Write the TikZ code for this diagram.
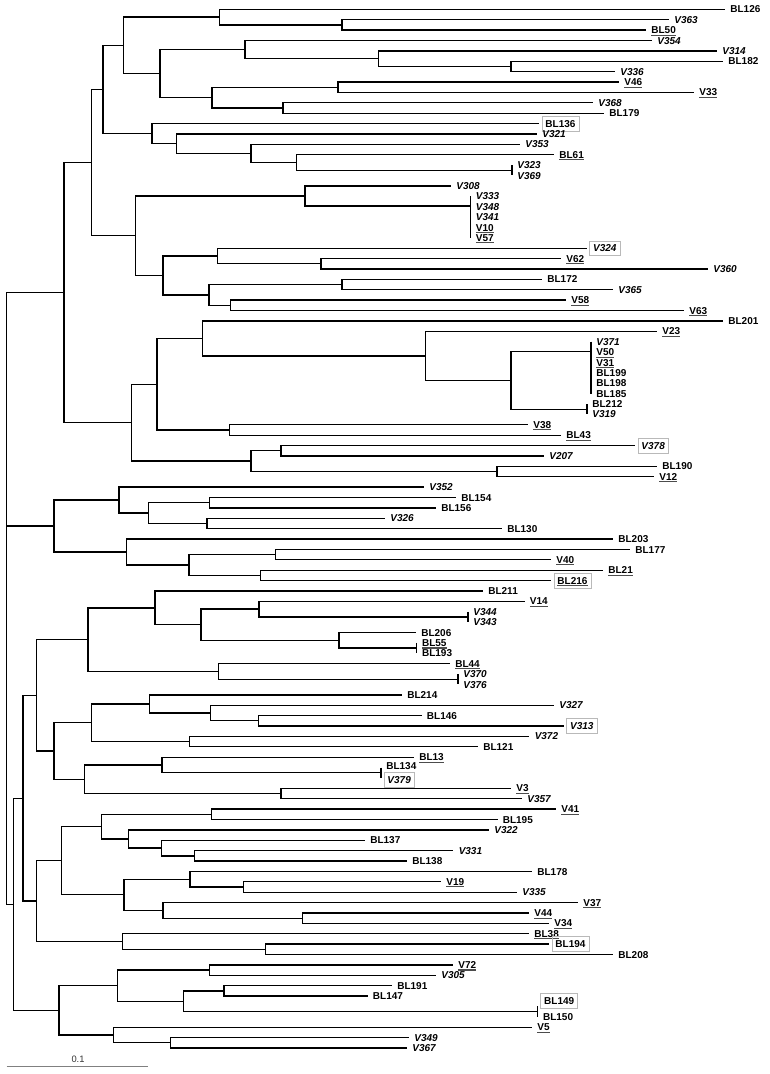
\documentclass[tikz,border=0pt]{standalone}
\usepackage{fontspec}
\newfontfamily\lblfont{Liberation Sans}

% underlined taxon label
\newcommand{\ulab}[1]{\setbox0=\hbox{#1}\rlap{\color{black!70}\rule[-1.5pt]{\wd0}{0.8pt}}\box0}
% tip coordinate plus its label
\newcommand{\taxon}[5][leaf]{\coordinate (#2) at (#3,#4); \node[#1] (l#2) at (#2) {#5};}

\begin{document}
\begin{tikzpicture}[
	x=0.75pt, y=-7.790pt,
	br/.style={line width=1pt},
	leaf/.style={anchor=west, inner sep=0.6pt, xshift=3.2pt, text height=5.4pt, text depth=0pt,
		font=\lblfont\bfseries\fontsize{7.5}{8}\selectfont},
	leafbox/.style={leaf, draw=gray!55, line width=0.5pt, inner xsep=2.6pt, minimum height=11pt, xshift=-1.2pt},
	scalebar/.style={gray, line width=0.6pt},
	]
	\useasboundingbox (0,0.1047) rectangle (769,103.503);
	
	% Taxa, upper clade
	\taxon{bl126}{725}{1}{BL126}
	\taxon{v363}{669}{2}{\itshape V363}
	\taxon{bl50}{646}{3}{\ulab{BL50}}
	\taxon{v354}{652}{4}{\itshape V354}
	\taxon{v314}{717}{5}{\itshape V314}
	\taxon{bl182}{723}{6}{BL182}
	\taxon{v336}{615}{7}{\itshape V336}
	\taxon{v46}{619}{8}{\ulab{V46}}
	\taxon{v33}{694}{9}{\ulab{V33}}
	\taxon{v368}{593}{10}{\itshape V368}
	\taxon{bl179}{604}{11}{BL179}
	\taxon[leafbox]{bl136}{539}{12}{BL136}
	\taxon{v321}{537}{13}{\itshape V321}
	\taxon{v353}{520}{14}{\itshape V353}
	\taxon{bl61}{554}{15}{\ulab{BL61}}
	\taxon{v323}{512}{16}{\itshape V323}
	\taxon{v369}{512}{17}{\itshape V369}
	\taxon{v308}{451}{18}{\itshape V308}
	\taxon{v333}{470.6}{19}{\itshape V333}
	\taxon{v348}{470.6}{20}{\itshape V348}
	\taxon{v341}{470.6}{21}{\itshape V341}
	\taxon{v10}{470.6}{22}{\ulab{V10}}
	\taxon{v57}{470.6}{23}{\ulab{V57}}
	\taxon[leafbox]{v324}{586.7}{24}{\itshape V324}
	\taxon{v62}{561}{25}{\ulab{V62}}
	\taxon{v360}{708}{26}{\itshape V360}
	\taxon{bl172}{542}{27}{BL172}
	\taxon{v365}{613}{28}{\itshape V365}
	\taxon{v58}{566}{29}{\ulab{V58}}
	\taxon{v63}{684}{30}{\ulab{V63}}
	\taxon{bl201}{723}{31}{BL201}
	\taxon{v23}{657}{32}{\ulab{V23}}
	\taxon{v371}{591}{33}{\itshape V371}
	\taxon{v50}{591}{34}{\ulab{V50}}
	\taxon{v31}{591}{35}{\ulab{V31}}
	\taxon{bl199}{591}{36}{BL199}
	\taxon{bl198}{591}{37}{BL198}
	\taxon{bl185}{591}{38}{BL185}
	\taxon{bl212}{587}{39}{BL212}
	\taxon{v319}{587}{40}{\itshape V319}
	\taxon{v38}{528}{41}{\ulab{V38}}
	\taxon{bl43}{561}{42}{\ulab{BL43}}
	\taxon[leafbox]{v378}{635}{43}{\itshape V378}
	\taxon{v207}{544}{44}{\itshape V207}
	\taxon{bl190}{657}{45}{BL190}
	\taxon{v12}{654}{46}{\ulab{V12}}
	
	% Taxa, middle clade
	\taxon{v352}{424}{47}{\itshape V352}
	\taxon{bl154}{456}{48}{BL154}
	\taxon{bl156}{436}{49}{BL156}
	\taxon{v326}{385}{50}{\itshape V326}
	\taxon{bl130}{502}{51}{BL130}
	\taxon{bl203}{613}{52}{BL203}
	\taxon{bl177}{630}{53}{BL177}
	\taxon{v40}{551}{54}{\ulab{V40}}
	\taxon{bl21}{603}{55}{\ulab{BL21}}
	\taxon[leafbox]{bl216}{551}{56}{\ulab{BL216}}
	
	% Taxa, lower clade
	\taxon{bl211}{483}{57}{BL211}
	\taxon{v14}{524.5}{58}{\ulab{V14}}
	\taxon{v344}{468}{59}{\itshape V344}
	\taxon{v343}{468}{60}{\itshape V343}
	\taxon{bl206}{416}{61}{BL206}
	\taxon{bl55}{416.7}{62}{\ulab{BL55}}
	\taxon{bl193}{416.7}{63}{BL193}
	\taxon{bl44}{450}{64}{\ulab{BL44}}
	\taxon{v370}{458}{65}{\itshape V370}
	\taxon{v376}{458}{66}{\itshape V376}
	\taxon{bl214}{402}{67}{BL214}
	\taxon{v327}{554}{68}{\itshape V327}
	\taxon{bl146}{421.6}{69}{BL146}
	\taxon[leafbox]{v313}{563.7}{70}{\itshape V313}
	\taxon{v372}{529.4}{71}{\itshape V372}
	\taxon{bl121}{478}{72}{BL121}
	\taxon{bl13}{414}{73}{\ulab{BL13}}
	\taxon[leaf, yshift=1pt]{bl134}{381}{74}{BL134}
	\taxon[leafbox, yshift=-1.5pt]{v379}{381}{75}{\itshape V379}
	\taxon{v3}{511}{76}{\ulab{V3}}
	\taxon{v357}{522}{77}{\itshape V357}
	\taxon{v41}{556}{78}{\ulab{V41}}
	\taxon{bl195}{497.5}{79}{BL195}
	\taxon{v322}{489}{80}{\itshape V322}
	\taxon{bl137}{365}{81}{BL137}
	\taxon{v331}{453.4}{82}{\itshape V331}
	\taxon{bl138}{407}{83}{BL138}
	\taxon{bl178}{532}{84}{BL178}
	\taxon{v19}{441}{85}{\ulab{V19}}
	\taxon{v335}{517}{86}{\itshape V335}
	\taxon{v37}{578}{87}{\ulab{V37}}
	\taxon{v44}{529}{88}{\ulab{V44}}
	\taxon{v34}{549}{89}{\ulab{V34}}
	\taxon{bl38}{529}{90}{\ulab{BL38}}
	\taxon[leafbox]{bl194}{549}{91}{BL194}
	\taxon{bl208}{613}{92}{BL208}
	\taxon{v72}{453}{93}{\ulab{V72}}
	\taxon{v305}{436}{94}{\itshape V305}
	\taxon{bl191}{392}{95}{BL191}
	\taxon{bl147}{367.6}{96}{BL147}
	\taxon[leafbox, yshift=4pt]{bl149}{537.7}{97}{BL149}
	\taxon{bl150}{537.7}{98}{BL150}
	\taxon{v5}{532}{99}{\ulab{V5}}
	\taxon{v349}{409}{100}{\itshape V349}
	\taxon{v367}{407}{101}{\itshape V367}
	
	% Internal nodes
	\coordinate (root) at (6.7,57.72);
	\coordinate (nA) at (64,28.277);
	\coordinate (nB) at (91.7,15.758);
	\coordinate (nD) at (103,8.719);
	\coordinate (nF) at (123.5,4.469);
	\coordinate (nH) at (219.6,1.75);
	\coordinate (nJ) at (342,2.5);
	\coordinate (nI) at (160,7.1875);
	\coordinate (nK) at (245,4.875);
	\coordinate (nM) at (378.4,5.75);
	\coordinate (nN) at (511,6.5);
	\coordinate (nL) at (212,9.5);
	\coordinate (nO) at (338,8.5);
	\coordinate (nP) at (283,10.5);
	\coordinate (nG) at (152,12.969);
	\coordinate (nQ) at (176.5,13.9375);
	\coordinate (nR) at (251,14.875);
	\coordinate (nS) at (296.6,15.75);
	\coordinate (gT) at (512,16.5);
	\coordinate (nE) at (135.8,22.797);
	\coordinate (nU) at (305,18.969);
	\coordinate (gW) at (470.6,19.9375);
	\coordinate (nV) at (163,26.625);
	\coordinate (nX) at (217.6,24.75);
	\coordinate (nZ) at (321,25.5);
	\coordinate (nY) at (209,28.5);
	\coordinate (nAA) at (342,27.5);
	\coordinate (nAB) at (230.4,29.5);
	\coordinate (nC) at (131.4,40.796);
	\coordinate (nAC) at (157,37.092);
	\coordinate (nAE) at (202.5,32.684);
	\coordinate (nAG) at (425.5,34.367);
	\coordinate (nAH) at (511,36.734);
	\coordinate (gAI) at (591,33.969);
	\coordinate (gAJ) at (587,39.5);
	\coordinate (nAF) at (229.4,41.5);
	\coordinate (nAD) at (251,44.5);
	\coordinate (nAK) at (281,43.5);
	\coordinate (nAL) at (497,45.5);
	\coordinate (nAM) at (54,50.75);
	\coordinate (nAN) at (119,48.25);
	\coordinate (nAP) at (148.5,49.5);
	\coordinate (nAQ) at (209.3,48.5);
	\coordinate (nAR) at (207,50.5);
	\coordinate (nAO) at (126.5,53.25);
	\coordinate (nAS) at (189,54.5);
	\coordinate (nAT) at (275.5,53.5);
	\coordinate (nAU) at (260.8,55.5);
	\coordinate (nBA) at (13.5,87.164);
	\coordinate (nBB) at (23,76.953);
	\coordinate (nBD) at (36.7,67.047);
	\coordinate (nBF) at (88,61.6875);
	\coordinate (nBH) at (155,58.625);
	\coordinate (nBJ) at (201,60.25);
	\coordinate (nBK) at (259,58.75);
	\coordinate (gBL) at (468,59.5);
	\coordinate (nBM) at (339,61.75);
	\coordinate (gBN) at (416.7,62.5);
	\coordinate (nBI) at (218.6,64.75);
	\coordinate (gBO) at (458,65.5);
	\coordinate (nBG) at (54,72.406);
	\coordinate (nBP) at (91.7,69.6875);
	\coordinate (nBR) at (149.5,67.875);
	\coordinate (nBT) at (210.8,68.75);
	\coordinate (nBU) at (258.8,69.5);
	\coordinate (nBS) at (189.7,71.5);
	\coordinate (nBQ) at (84.3,75.125);
	\coordinate (nBV) at (162,73.75);
	\coordinate (gBX) at (381,74.5);
	\coordinate (nBW) at (281,76.5);
	\coordinate (nBE) at (36.7,86.859);
	\coordinate (nBY) at (61.3,82.969);
	\coordinate (nCA) at (101.5,79.6875);
	\coordinate (nCC) at (211.8,78.5);
	\coordinate (nCD) at (128.4,80.875);
	\coordinate (nCE) at (161.8,81.75);
	\coordinate (nCF) at (194.6,82.5);
	\coordinate (nCB) at (124,86.25);
	\coordinate (nCG) at (190,84.75);
	\coordinate (nCH) at (243.6,85.5);
	\coordinate (nCI) at (163,87.75);
	\coordinate (nCJ) at (302.5,88.5);
	\coordinate (nBZ) at (122.5,90.75);
	\coordinate (nCK) at (265.7,91.5);
	\coordinate (nBC) at (59,97.375);
	\coordinate (nCL) at (117.6,95);
	\coordinate (nCN) at (209.3,93.5);
	\coordinate (nCO) at (183.8,96.5);
	\coordinate (nCP) at (224,95.5);
	\coordinate (gCQ) at (537.7,97.5);
	\coordinate (nCM) at (113.7,99.75);
	\coordinate (nCR) at (170.6,100.5);
	
	% Zero-length groups
	\foreach \a/\b in {v323/v369, v333/v57, v371/bl185, bl212/v319, v344/v343,
		bl55/bl193, v370/v376, bl134/v379, bl149/bl150}
	\draw[br] (\a) -- (\b);
	
	% Branches
	\foreach \p/\c in {root/nA, root/nAM, root/nBA,
		nA/nB, nA/nC, nB/nD, nB/nE, nD/nF, nD/nG, nF/nH, nF/nI,
		nH/bl126, nH/nJ, nJ/v363, nJ/bl50, nI/nK, nI/nL, nK/v354, nK/nM,
		nM/v314, nM/nN, nN/bl182, nN/v336, nL/nO, nL/nP, nO/v46, nO/v33,
		nP/v368, nP/bl179, nG/bl136, nG/nQ, nQ/v321, nQ/nR, nR/v353, nR/nS,
		nS/bl61, nS/gT, nE/nU, nE/nV, nU/v308, nU/gW, nV/nX, nV/nY,
		nX/v324, nX/nZ, nZ/v62, nZ/v360, nY/nAA, nY/nAB, nAA/bl172, nAA/v365,
		nAB/v58, nAB/v63, nC/nAC, nC/nAD, nAC/nAE, nAC/nAF, nAE/bl201, nAE/nAG,
		nAG/v23, nAG/nAH, nAH/gAI, nAH/gAJ, nAF/v38, nAF/bl43, nAD/nAK, nAD/nAL,
		nAK/v378, nAK/v207, nAL/bl190, nAL/v12,
		nAM/nAN, nAM/nAO, nAN/v352, nAN/nAP, nAP/nAQ, nAP/nAR, nAQ/bl154, nAQ/bl156,
		nAR/v326, nAR/bl130, nAO/bl203, nAO/nAS, nAS/nAT, nAS/nAU, nAT/bl177, nAT/v40,
		nAU/bl21, nAU/bl216,
		nBA/nBB, nBA/nBC, nBB/nBD, nBB/nBE, nBD/nBF, nBD/nBG, nBF/nBH, nBF/nBI,
		nBH/bl211, nBH/nBJ, nBJ/nBK, nBJ/nBM, nBK/v14, nBK/gBL, nBM/bl206, nBM/gBN,
		nBI/bl44, nBI/gBO, nBG/nBP, nBG/nBQ, nBP/nBR, nBP/nBS, nBR/bl214, nBR/nBT,
		nBT/v327, nBT/nBU, nBU/bl146, nBU/v313, nBS/v372, nBS/bl121, nBQ/nBV, nBQ/nBW,
		nBV/bl13, nBV/gBX, nBW/v3, nBW/v357, nBE/nBY, nBE/nBZ, nBY/nCA, nBY/nCB,
		nCA/nCC, nCA/nCD, nCC/v41, nCC/bl195, nCD/v322, nCD/nCE, nCE/bl137, nCE/nCF,
		nCF/v331, nCF/bl138, nCB/nCG, nCB/nCI, nCG/bl178, nCG/nCH, nCH/v19, nCH/v335,
		nCI/v37, nCI/nCJ, nCJ/v44, nCJ/v34, nBZ/bl38, nBZ/nCK, nCK/bl194, nCK/bl208,
		nBC/nCL, nBC/nCM, nCL/nCN, nCL/nCO, nCN/v72, nCN/v305, nCO/nCP, nCO/gCQ,
		nCP/bl191, nCP/bl147, nCM/v5, nCM/nCR, nCR/v349, nCR/v367}
	\draw[br] (\p) |- (\c);
	
	% Scale bar
	\coordinate (sb0) at (6.7,102.78);
	\coordinate (sb1) at (148,102.78);
	\draw[scalebar] (sb0) -- (sb1);
	\node[font=\lblfont\fontsize{7}{8}\selectfont, black!80] (sblab) at (78,102.09) {0.1};
\end{tikzpicture}
\end{document}
